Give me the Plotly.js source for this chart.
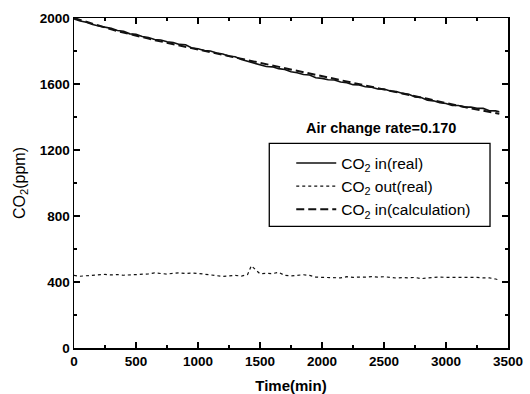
<!DOCTYPE html>
<html>
<head>
<meta charset="utf-8">
<script src="https://cdn.plot.ly/plotly-3.0.1.min.js"></script>
<style>html,body{margin:0;padding:0;background:#fff}#chart{width:530px;height:394px}</style>
</head>
<body>
<div id="chart"></div>
<script>
const time = [0,50,100,150,200,250,300,350,400,450,500,550,600,650,700,750,800,850,900,950,1000,1050,1100,1150,1200,1250,1300,1350,1400,1450,1500,1550,1600,1650,1700,1750,1800,1850,1900,1950,2000,2050,2100,2150,2200,2250,2300,2350,2400,2450,2500,2550,2600,2650,2700,2750,2800,2850,2900,2950,3000,3050,3100,3150,3200,3250,3300,3350,3400,3430];
const co2InReal = [1995,1982,1974,1960,1952,1944,1937,1924,1920,1904,1902,1888,1882,1870,1867,1856,1852,1840,1838,1818,1814,1803,1800,1788,1782,1768,1765,1748,1738,1726,1720,1706,1704,1693,1688,1674,1668,1658,1655,1638,1634,1626,1624,1612,1608,1596,1594,1583,1580,1570,1570,1558,1554,1543,1538,1522,1518,1502,1498,1486,1482,1470,1470,1460,1460,1453,1452,1438,1437,1432];
const co2InCalc = [2000,1988,1976,1964,1953,1942,1931,1921,1911,1902,1893,1884,1875,1866,1858,1850,1842,1834,1826,1818,1810,1802,1794,1786,1778,1770,1762,1754,1746,1738,1728,1718,1710,1702,1694,1686,1678,1670,1662,1654,1646,1638,1630,1622,1614,1606,1598,1590,1583,1575,1568,1560,1552,1544,1536,1528,1519,1510,1501,1492,1484,1476,1468,1460,1452,1446,1439,1432,1425,1420];
const co2OutReal = [440,435,438,442,445,446,443,445,441,442,444,446,449,455,452,448,453,456,451,454,452,447,445,441,434,437,440,436,445,458,450,452,451,458,440,437,440,444,440,430,428,427,430,425,432,428,430,429,433,430,432,428,424,427,425,428,420,425,428,430,428,428,430,427,429,428,425,425,418,412];
const timeOut = [0,50,100,150,200,250,300,350,400,450,500,550,600,650,700,750,800,850,900,950,1000,1050,1100,1150,1200,1250,1300,1350,1400,1430,1500,1550,1600,1650,1700,1750,1800,1850,1900,1950,2000,2050,2100,2150,2200,2250,2300,2350,2400,2450,2500,2550,2600,2650,2700,2750,2800,2850,2900,2950,3000,3050,3100,3150,3200,3250,3300,3350,3400,3430];
const outSpike = {t: 1430, v: 498};
const xTicks = [0,500,1000,1500,2000,2500,3000,3500];
const yTicks = [0,400,800,1200,1600,2000];
const seriesNames = ['CO<sub>2</sub> in(real)','CO<sub>2</sub> out(real)','CO<sub>2</sub> in(calculation)'];
const noteText = 'Air change rate=0.170';

const outY = co2OutReal.slice();
outY[timeOut.indexOf(outSpike.t)] = outSpike.v;

const font = 'Liberation Sans, Arial, sans-serif';
const traces = [
  {x: time, y: co2InReal, mode:'lines', name: seriesNames[0], line:{color:'#111', width:1.6}},
  {x: timeOut, y: outY, mode:'lines', name: seriesNames[1], line:{color:'#111', width:1.2, dash:'dot'}},
  {x: time, y: co2InCalc, mode:'lines', name: seriesNames[2], line:{color:'#111', width:2, dash:'8px,4px'}}
];
const axisCommon = {
  showgrid:false, zeroline:false, showline:true, linecolor:'#000', linewidth:1.5,
  mirror:'ticks', ticks:'inside', ticklen:6, tickwidth:1.5, tickcolor:'#000',
  tickfont:{family:font, size:13.5, color:'#000', weight:'bold'}
};
const px2x = p => (p-73.5)/434.5;
const px2y = p => (347.7-p)/330.2;
const layout = {
  width:530, height:394,
  margin:{l:73.5, r:22, t:17.5, b:46},
  paper_bgcolor:'#fff', plot_bgcolor:'#fff',
  showlegend:true,
  legend:{x:px2x(291), y:px2y(146), xanchor:'left', yanchor:'top', bgcolor:'rgba(0,0,0,0)', borderwidth:0,
    font:{family:font, size:15.5, color:'#000'}, tracegroupgap:0, itemwidth:40},
  xaxis: Object.assign({}, axisCommon, {range:[0,3500], tickvals:xTicks,
    minor:{ticks:'inside', dtick:250, ticklen:3, tickwidth:1.2, tickcolor:'#000'},
    title:{text:'Time(min)', font:{family:font, size:15, color:'#000', weight:'bold'}, standoff:15}}),
  yaxis: Object.assign({}, axisCommon, {range:[0,2000], tickvals:yTicks,
    minor:{ticks:'inside', dtick:200, ticklen:3, tickwidth:1.2, tickcolor:'#000'},
    title:{text:'CO<sub>2</sub>(ppm)', font:{family:font, size:16, color:'#000'}, standoff:10}}),
  shapes:[{type:'rect', xref:'paper', yref:'paper', x0:px2x(269), x1:px2x(490), y0:px2y(226), y1:px2y(143),
    line:{color:'#000', width:1.3}, fillcolor:'#fff', layer:'below'}],
  annotations:[{xref:'paper', yref:'paper', x:px2x(381), y:px2y(128), xanchor:'center', yanchor:'middle', showarrow:false,
    text:'<b>'+noteText+'</b>', font:{family:font, size:14.5, color:'#000'}}]
};
Plotly.newPlot('chart', traces, layout, {staticPlot:true});
</script>
</body>
</html>
